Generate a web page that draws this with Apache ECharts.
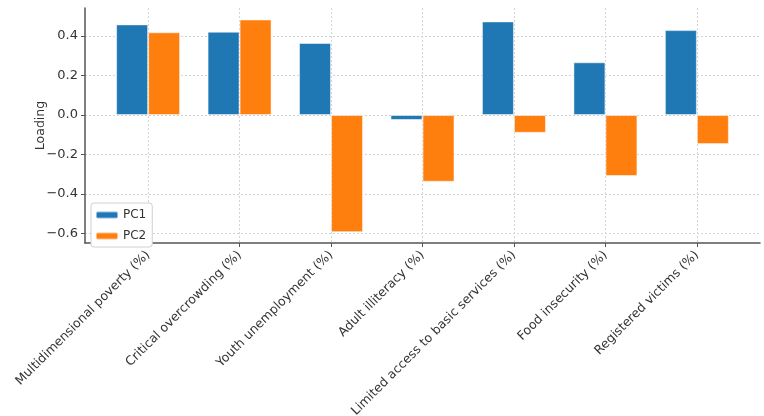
<!DOCTYPE html>
<html>
<head>
<meta charset="utf-8">
<script src="https://cdn.jsdelivr.net/npm/echarts@6/dist/echarts.min.js"></script>
<style>
  html, body { margin: 0; padding: 0; background: #fff; }
  #chart { width: 764px; height: 416px; }
</style>
</head>
<body>
<div id="chart"></div>
<script>
const categories = [
  'Multidimensional poverty (%)',
  'Critical overcrowding (%)',
  'Youth unemployment (%)',
  'Adult illiteracy (%)',
  'Limited access to basic services (%)',
  'Food insecurity (%)',
  'Registered victims (%)'
];
const pc1 = [0.459, 0.422, 0.365, -0.025, 0.474, 0.267, 0.430];
const pc2 = [0.419, 0.484, -0.593, -0.338, -0.090, -0.309, -0.147];
const yTicks = [-0.6, -0.4, -0.2, 0.0, 0.2, 0.4];

const font = 'DejaVu Sans';
const positions = categories.map((c, i) => i);

const chart = echarts.init(document.getElementById('chart'), null, { renderer: 'canvas' });

const option = {
  backgroundColor: '#ffffff',
  animation: false,
  textStyle: { fontFamily: font },
  grid: { left: 85, right: 4, top: 8, bottom: 173, containLabel: false, outerBoundsMode: 'none' },
  legend: {
    left: 91,
    top: 203,
    orient: 'vertical',
    itemWidth: 22,
    itemHeight: 7,
    itemGap: 9,
    padding: [6, 6, 5, 4],
    backgroundColor: '#ffffff',
    borderColor: '#d0d0d0',
    borderWidth: 1,
    borderRadius: 3,
    textStyle: { fontFamily: font, fontSize: 12, color: '#333' },
    data: ['PC1', 'PC2']
  },
  xAxis: {
    type: 'value',
    min: -0.69,
    max: 6.69,
    axisLine: { show: true, onZero: false, lineStyle: { color: '#555', width: 1.5 } },
    axisTick: { show: true, length: 4, customValues: positions, lineStyle: { color: '#555' } },
    axisLabel: {
      customValues: positions,
      rotate: 45,
      fontFamily: font,
      fontSize: 12.5,
      color: '#333',
      margin: 10,
      formatter: v => categories[Math.round(v)] || ''
    },
    splitLine: { show: true, lineStyle: { color: '#d4d4d4', type: [2, 2], width: 1 } }
  },
  yAxis: {
    type: 'value',
    min: -0.648,
    max: 0.542,
    name: 'Loading',
    nameLocation: 'middle',
    nameGap: 38,
    nameMoveOverlap: false,
    nameTextStyle: { fontFamily: font, fontSize: 12.5, color: '#333' },
    axisLine: { show: true, onZero: false, lineStyle: { color: '#555', width: 1.5 } },
    axisTick: { show: true, length: 4, customValues: yTicks, lineStyle: { color: '#555' } },
    axisLabel: {
      customValues: yTicks,
      fontFamily: font,
      fontSize: 13,
      color: '#333',
      margin: 7,
      formatter: v => v.toFixed(1).replace('-', '\u2212')
    },
    splitLine: { show: true, lineStyle: { color: '#d4d4d4', type: [2, 2], width: 1 } }
  },
  series: [
    {
      name: 'PC1',
      type: 'bar',
      data: pc1.map((v, i) => [i, v]),
      barWidth: 32,
      barGap: '0%',
      itemStyle: { color: '#1f77b4', borderColor: 'rgba(255,255,255,0.5)', borderWidth: 1 }
    },
    {
      name: 'PC2',
      type: 'bar',
      data: pc2.map((v, i) => [i, v]),
      barWidth: 32,
      barGap: '0%',
      itemStyle: { color: '#ff7f0e', borderColor: 'rgba(255,255,255,0.5)', borderWidth: 1 }
    }
  ]
};

chart.setOption(option);
</script>
</body>
</html>
